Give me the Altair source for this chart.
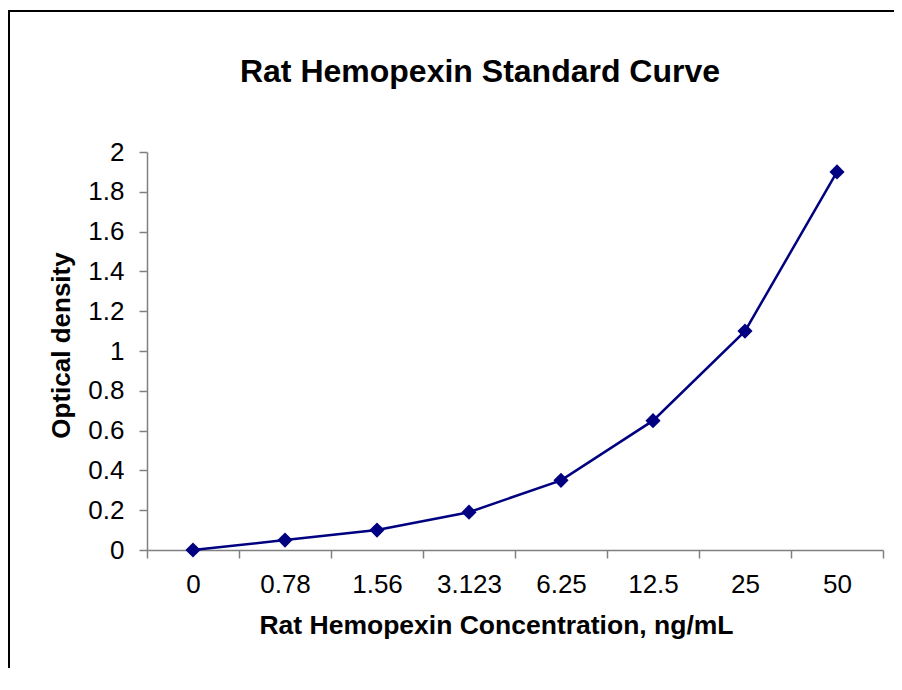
import altair as alt
import pandas as pd

# ---- data ----
concentrations = ["0", "0.78", "1.56", "3.123", "6.25", "12.5", "25", "50"]
optical_density = [0.0, 0.05, 0.10, 0.19, 0.35, 0.65, 1.10, 1.90]
y_ticks = [0, 0.2, 0.4, 0.6, 0.8, 1, 1.2, 1.4, 1.6, 1.8, 2]

chart_title = "Rat Hemopexin Standard Curve"
x_title = "Rat Hemopexin Concentration, ng/mL"
y_title = "Optical density"

df = pd.DataFrame({"conc": concentrations, "od": optical_density})

FONT = "Liberation Sans, Arial, Helvetica, sans-serif"
NAVY = "#000080"
AXIS_GREY = "#808080"

W, H = 736, 398
PAD = {"left": 139, "top": 144, "right": 11, "bottom": 118}

x_enc = alt.X(
    "conc:N",
    sort=concentrations,
    scale=alt.Scale(paddingInner=0, paddingOuter=0),
    axis=alt.Axis(
        title=x_title,
        labelAngle=0,
        tickBand="extent",
        tickSize=8,
        labelPadding=13,
        labelFontSize=26,
        labelFont=FONT,
        labelColor="black",
        titleFont=FONT,
        titleFontSize=26.5,
        titleFontWeight="bold",
        titleColor="black",
        titleBaseline="alphabetic",
        titleAlign="center",
        titleX=349,
        titleY=83,
        domainColor=AXIS_GREY,
        tickColor=AXIS_GREY,
        domainWidth=1.5,
        tickWidth=1.5,
        grid=False,
    ),
)

y_enc = alt.Y(
    "od:Q",
    scale=alt.Scale(domain=[0, 2], nice=False, zero=True),
    axis=alt.Axis(
        title=y_title,
        values=y_ticks,
        format="~g",
        tickSize=8,
        labelPadding=15,
        labelFontSize=26,
        labelFont=FONT,
        labelColor="black",
        titleFont=FONT,
        titleFontSize=26,
        titleFontWeight="bold",
        titleColor="black",
        titleAngle=270,
        titleBaseline="alphabetic",
        titleAlign="center",
        titleX=-78,
        titleY=193,
        domainColor=AXIS_GREY,
        tickColor=AXIS_GREY,
        domainWidth=1.5,
        tickWidth=1.5,
        grid=False,
    ),
)

line = alt.Chart(df).mark_line(color=NAVY, strokeWidth=2.5).encode(x=x_enc, y=y_enc)
points = alt.Chart(df).mark_point(
    shape="diamond", filled=True, color=NAVY, size=230, opacity=1
).encode(x=x_enc, y=y_enc)

blank = alt.Data(values=[{}])
frame_left = alt.Chart(blank).mark_rule(color="black", strokeWidth=2).encode(
    x=alt.value(-138), y=alt.value(-141), y2=alt.value(H + PAD["bottom"])
)
frame_top = alt.Chart(blank).mark_rule(color="black", strokeWidth=2).encode(
    x=alt.value(-139), x2=alt.value(W + PAD["right"]), y=alt.value(-141)
)

title_text = alt.Chart(blank).mark_text(
    text=chart_title,
    font=FONT,
    fontSize=32,
    fontWeight="bold",
    color="black",
    align="center",
    baseline="alphabetic",
).encode(x=alt.value(333), y=alt.value(-70))

chart = (
    alt.layer(frame_left, frame_top, line, points, title_text)
    .properties(
        width=W,
        height=H,
        autosize="none",
        padding=PAD,
    )
    .configure(
        background="white",
        view=alt.ViewConfig(stroke="transparent", strokeWidth=0),
    )
)

chart.save("out.html", embed_options={"renderer": "svg", "actions": False})
